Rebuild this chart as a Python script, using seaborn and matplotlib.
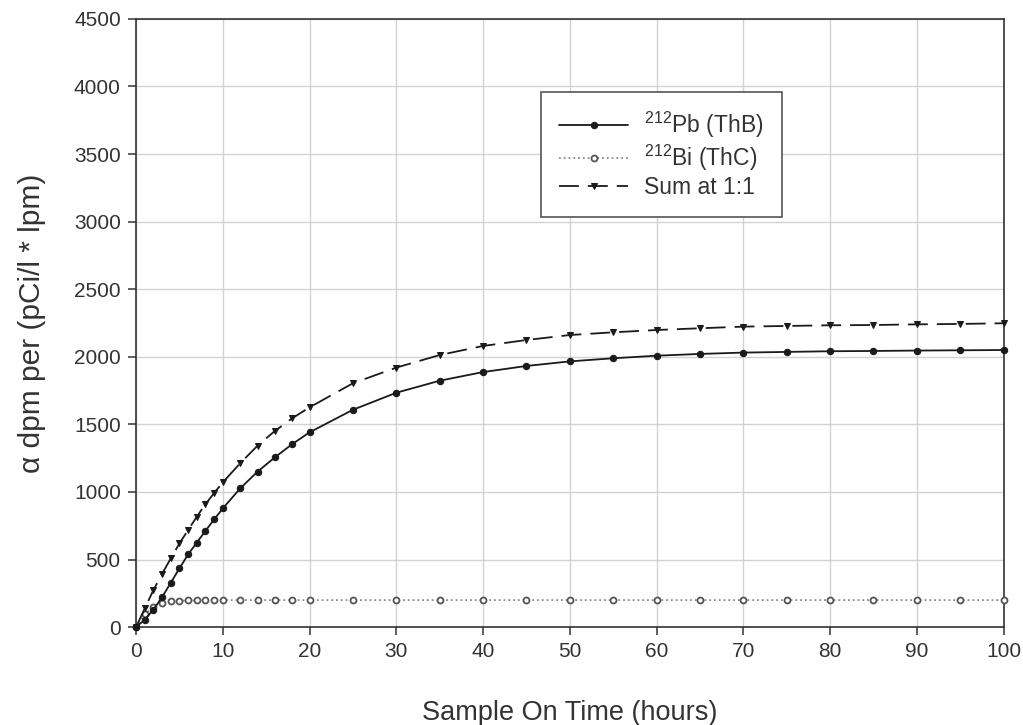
import pandas as pd
import matplotlib
matplotlib.use("Agg")
import matplotlib.pyplot as plt
import seaborn as sns

# sample-on time (hours) and activity readings (alpha dpm per pCi/l * lpm)
hours = [0, 1, 2, 3, 4, 5, 6, 7, 8, 9, 10, 12, 14, 16, 18, 20,
         25, 30, 35, 40, 45, 50, 55, 60, 65, 70, 75, 80, 85, 90, 95, 100]
pb212 = [0, 55, 130, 222, 328, 434, 538, 625, 712, 797, 878,
         1026, 1150, 1256, 1354, 1441,
         1608, 1734, 1823, 1887, 1932, 1966, 1989, 2008, 2021, 2031,
         2036, 2041, 2043, 2046, 2048, 2050]
bi212 = [0, 95, 150, 178, 190, 195, 197, 198, 199, 200, 200,
         200, 200, 200, 200, 200,
         200, 200, 200, 200, 200, 200, 200, 200, 200, 200,
         200, 200, 200, 200, 200, 200]
sum_11 = [0, 138, 274, 395, 508, 619, 718, 817, 910, 992, 1071,
          1212, 1342, 1451, 1545, 1626,
          1804, 1920, 2013, 2080, 2124, 2161, 2181, 2198, 2211, 2223,
          2228, 2233, 2235, 2240, 2243, 2248]

x_ticks = list(range(0, 101, 10))
y_ticks = list(range(0, 4501, 500))

df = pd.DataFrame({"hours": hours, "pb": pb212, "bi": bi212, "sum": sum_11})

sns.set_style("white")
plt.rcParams["font.family"] = ["Liberation Sans", "DejaVu Sans"]
plt.rcParams["mathtext.fontset"] = "custom"
plt.rcParams["mathtext.rm"] = "Liberation Sans"
plt.rcParams["mathtext.it"] = "Liberation Sans:italic"

fig = plt.figure(figsize=(10.23, 7.25), dpi=100)
ax = fig.add_axes([0.133, 0.135, 0.848, 0.839])

sns.lineplot(data=df, x="hours", y="pb", ax=ax, color="#1a1a1a", lw=1.3,
             marker="o", markersize=4.6, markeredgecolor="#1a1a1a",
             label=r"$^{212}$Pb (ThB)", clip_on=False, zorder=4)
sns.lineplot(data=df, x="hours", y="bi", ax=ax, color="#8a8a8a", lw=1.3,
             linestyle=":", marker="o", markersize=4.3,
             markerfacecolor="white", markeredgecolor="#555555",
             markeredgewidth=1.3, label=r"$^{212}$Bi (ThC)",
             clip_on=False, zorder=3)
sns.lineplot(data=df, x="hours", y="sum", ax=ax, color="#1a1a1a", lw=1.3,
             linestyle=(0, (11, 5)), marker="v", markersize=5,
             markeredgecolor="#1a1a1a", label="Sum at 1:1",
             clip_on=False, zorder=4)

ax.set_xlim(0, 100)
ax.set_ylim(0, 4500)
ax.set_xticks(x_ticks)
ax.set_yticks(y_ticks)
ax.grid(True, color="#d2d2d2", lw=1)
ax.set_axisbelow(True)

for s in ax.spines.values():
    s.set_color("#333333")
    s.set_linewidth(1.2)

ax.tick_params(axis="both", direction="out", length=6, width=1.1,
               color="#333333", labelsize=15, labelcolor="#333333",
               bottom=True, left=True, pad=5)

ax.set_xlabel("Sample On Time (hours)", fontsize=19.5, color="#333333",
              labelpad=28)
ax.set_ylabel("α dpm per (pCi/l * lpm)", fontsize=21.5, color="#333333",
              labelpad=20)

leg = ax.legend(loc="upper left", bbox_to_anchor=(0.4666, 0.88),
                borderaxespad=0, fontsize=16.5, frameon=True,
                fancybox=False, edgecolor="#555555", framealpha=1,
                handlelength=3.0, borderpad=0.8, labelspacing=0.12,
                handletextpad=0.7)
leg.get_frame().set_linewidth(1.2)
for t in leg.get_texts():
    t.set_color("#333333")

fig.savefig("out.png", dpi=100)
